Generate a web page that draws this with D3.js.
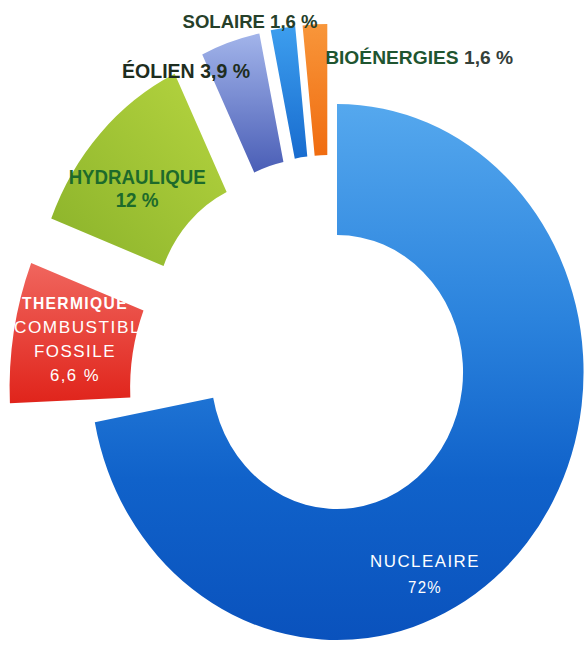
<!DOCTYPE html>
<html>
<head>
  <meta charset="utf-8">
  <title>Production d'électricité</title>
  <script src="https://cdn.jsdelivr.net/npm/d3@7"></script>
  <style>
    body { margin: 0; background: #fff; }
    svg { display: block; }
  </style>
</head>
<body>
<script>
  // données
  var names = [["NUCLEAIRE"], ["THERMIQUE", "COMBUSTIBLE", "FOSSILE"], ["HYDRAULIQUE"], ["ÉOLIEN"], ["SOLAIRE"], ["BIOÉNERGIES"]];
  var values = [72, 6.6, 12, 3.9, 1.6, 1.6];
  var valueLabels = ["72%", "6,6 %", "12 %", "3,9 %", "1,6 %", "1,6 %"];

  var width = 584, height = 646;
  var cx = 337, cy = 372, rIn = 137, rOut = 268, sx = 0.92;

  // mise en page des parts : décalage radial, anneau agrandi, petit ajustement
  var explode = [0, 0, 80, 80, 80, 80];
  var ringShift = [0, 77, 0, 0, 0, 0];
  var nudge = [[0, 0], [-10, 16], [-2, -2], [-5, 0], [-6, 0], [-6, 0]];

  // couleurs (dégradés haut -> bas)
  var gradStops = [
    [[0, "#55a8ee"], [0.4, "#2b83dd"], [0.7, "#1062ca"], [1, "#0a52bd"]],
    [[0, "#f0665e"], [1, "#e0241b"]],
    [[0, "#b6d540"], [1, "#8ab22a"]],
    [[0, "#a2b4ea"], [1, "#4a5eb6"]],
    [[0, "#3d9eee"], [1, "#186ccf"]],
    [[0, "#f8963a"], [1, "#f06c10"]]
  ];

  var svg = d3.select("body").append("svg").attr("width", width).attr("height", height);
  var defs = svg.append("defs");
  gradStops.forEach(function(stops, i) {
    var lg = defs.append("linearGradient").attr("id", "grad" + i)
      .attr("x1", i == 2 ? 1 : 0).attr("y1", 0).attr("x2", 0).attr("y2", 1);
    stops.forEach(function(s) {
      lg.append("stop").attr("offset", s[0]).attr("stop-color", s[1]);
    });
  });

  // le reste jusqu'à 100 % laisse un vide après le nucléaire
  var rest = 100 - d3.sum(values);
  var pie = d3.pie().sort(null).value(function(d) { return d; });
  var pieData = pie([values[0], rest].concat(values.slice(1)));
  var arcs = [pieData[0]].concat(pieData.slice(2));
  arcs.forEach(function(d, i) { d.index = i; });

  var arc = d3.arc()
    .innerRadius(function(d) { return rIn + ringShift[d.index]; })
    .outerRadius(function(d) { return rOut + ringShift[d.index]; });

  function offset(d) {
    var i = d.index, a = (d.startAngle + d.endAngle) / 2;
    return [Math.sin(a) * explode[i] + nudge[i][0] / sx, -Math.cos(a) * explode[i] + nudge[i][1]];
  }

  var g = svg.append("g")
    .attr("transform", "translate(" + cx + "," + cy + ") scale(" + sx + ",1)");

  g.selectAll("path")
    .data(arcs)
    .join("path")
    .attr("transform", function(d) { return "translate(" + offset(d) + ")"; })
    .attr("d", arc)
    .attr("fill", function(d) { return "url(#grad" + d.index + ")"; });

  // position écran du centroïde d'une part (décalée)
  function anchor(d) {
    var c = arc.centroid(d), o = offset(d);
    return [cx + sx * (c[0] + o[0]), cy + c[1] + o[1]];
  }

  // mise en page des étiquettes
  var labelLayout = [
    { dx: [-55.5, -55.5], dy: 60, lh: 26, anchor: "middle", size: 17, fill: ["#ffffff", "#ffffff"], spacing: 1.5,
      lines: [[names[0][0]], [valueLabels[0]]], widths: [110, 34], weights: [400, 400] },
    { dx: [1.7, 10.7, 1.7, 1.7], dy: -39.6, lh: 24, anchor: "middle", size: 17,
      fill: ["#ffffff", "#ffffff", "#ffffff", "#ffffff"], spacing: 1.5,
      lines: [[names[1][0]], [names[1][1]], [names[1][2]], [valueLabels[1]]], widths: [106, 140, 82, 50], weights: [700, 400, 400, 400] },
    { dx: [-7.3, -7.3], dy: -0.6, lh: 22.5, anchor: "middle", size: 20, fill: ["#1d6a2b", "#1d6a2b"], spacing: 0,
      lines: [[names[2][0]], [valueLabels[2]]], widths: [137, 43], weights: [700, 700] },
    { dx: [0.7], dy: -33.2, lh: 0, anchor: "end", size: 20, fill: ["#1e2d20"], spacing: 0,
      lines: [[names[3][0] + " ", valueLabels[3]]], widths: [128], weights: [700] },
    { dx: [-41.9], dy: -71.2, lh: 0, anchor: "middle", size: 18, fill: ["#26402a"], spacing: 0,
      lines: [[names[4][0] + " ", valueLabels[4]]], widths: [135], weights: [700] },
    { dx: [7.2], dy: -31.4, lh: 0, anchor: "start", size: 18, fill: ["#1f5530", "#34403a"], spacing: 0,
      lines: [[names[5][0] + " ", valueLabels[5]]], widths: [188], weights: [700] }
  ];

  arcs.forEach(function(d) {
    var p = anchor(d), L = labelLayout[d.index];
    L.lines.forEach(function(parts, k) {
      var t = svg.append("text")
        .attr("x", p[0] + L.dx[k])
        .attr("y", p[1] + L.dy + k * L.lh)
        .attr("text-anchor", L.anchor)
        .attr("dominant-baseline", "central")
        .attr("font-family", "'Liberation Sans Narrow', 'Arial Narrow', 'Liberation Sans', Arial, sans-serif")
        .attr("font-size", L.size)
        .attr("font-weight", L.weights[k])
        .attr("letter-spacing", L.spacing)
        .attr("fill", L.fill[k])
        .attr("textLength", L.widths[k])
        .attr("lengthAdjust", "spacingAndGlyphs");
      parts.forEach(function(s, j) {
        t.append("tspan").attr("fill", L.fill[Math.min(j, L.fill.length - 1)] && (L.lines.length == 1 && L.fill.length > 1 ? L.fill[j] : L.fill[k])).text(s);
      });
    });
  });
</script>
</body>
</html>
